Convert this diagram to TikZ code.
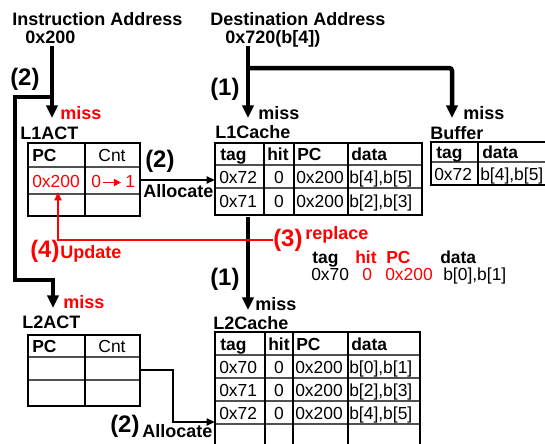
\documentclass[tikz,border=0pt]{standalone}
\usepackage{fontspec}
\setmainfont{Liberation Sans}
\usepackage{tikz}
\usetikzlibrary{arrows.meta}
\definecolor{ACTRed}{HTML}{FF0000}
\definecolor{RowGray}{HTML}{505050}

\tikzset{
  lbl/.style={inner sep=0pt,anchor=base west,font=\fontsize{12.8}{15}\selectfont\bfseries},
  stepno/.style={inner sep=0pt,anchor=base west,font=\fontsize{17}{20}\selectfont\bfseries},
  val/.style={inner sep=0pt,anchor=base west,font=\fontsize{12.4}{15}\selectfont},
  hdr/.style={inner sep=0pt,anchor=base west,font=\fontsize{12.4}{15}\selectfont\bfseries},
  busarrow/.style={line width=3.2pt,-{Triangle[width=8pt,length=9pt]}},
  allocarrow/.style={line width=1.4pt,-{Triangle[width=5pt,length=6pt]}},
  updarrow/.style={ACTRed,line width=1.4pt,-{Triangle[width=5pt,length=6pt]}},
  cntarrow/.style={ACTRed,line width=1.4pt,-{Triangle[width=5pt,length=5pt]}},
  tabframe/.style={line width=1.4pt},
  rowline/.style={RowGray,line width=1pt},
}

\begin{document}
\begin{tikzpicture}[x=0.025cm,y=-0.025cm]
\path[use as bounding box] (0,0) rectangle (545,443);

% addresses
\node[lbl] (ia) at (12,25) {Instruction Address};
\node[lbl] (iaval) at (25,43) {0x200};
\node[lbl] (da) at (210,25) {Destination Address};
\node[lbl] (daval) at (225,43) {0x720(b[4])};

% bus coordinates
\coordinate (iatop) at (52,46);
\coordinate (iasplit) at (52,97);
\coordinate (iabendA) at (15,97);
\coordinate (iabendB) at (15,280);
\coordinate (iabendC) at (53,280);
\coordinate (l1acttip) at (52,118);
\coordinate (l2acttip) at (53,308);
\coordinate (datop) at (248,46);
\coordinate (dasplit) at (248,68);
\coordinate (dabend) at (452,68);
\coordinate (l1ctip) at (248,118);
\coordinate (buftip) at (452,118);
\coordinate (l1cbot) at (248,217);
\coordinate (l2ctip) at (248,310);

\draw[busarrow] (iatop) -- (l1acttip);
\draw[busarrow] (iasplit) -- (iabendA) -- (iabendB) -- (iabendC) -- (l2acttip);
\draw[busarrow] (datop) -- (l1ctip);
\draw[busarrow,rounded corners=2pt] (dasplit) -- (dabend) -- (buftip);
\draw[busarrow] (l1cbot) -- (l2ctip);

\node[stepno] (stepia) at (10,85) {(2)};
\node[stepno] (stepda) at (210,95) {(1)};
\node[stepno] (stepl2c) at (210,285) {(1)};

% L1ACT
\node[lbl,ACTRed] (missl1act) at (60,119) {miss};
\node[lbl] (l1actname) at (20,139) {L1ACT};
\draw[rowline] (28,167) -- (140,167) (28,194) -- (140,194);
\draw[tabframe] (85,143) -- (85,216);
\draw[tabframe] (28,143) rectangle (140,216);
\node[hdr] (l1actpc) at (32,161) {PC};
\node[val,anchor=base] (l1actcnt) at (112,161) {Cnt};
\node[val,ACTRed] (l1actpcval) at (32,187) {0x200};
\node[val,ACTRed] (l1actold) at (91,187) {0};
\node[val,ACTRed] (l1actnew) at (125,187) {1};
\coordinate (cntfrom) at (103,182.5);
\coordinate (cntto) at (121,182.5);
\draw[cntarrow] (cntfrom) -- (cntto);

% L1ACT -> L1Cache
\coordinate (l1actout) at (140,180);
\coordinate (l1cin) at (215,180);
\draw[allocarrow] (l1actout) -- (l1cin);
\node[stepno] (stepl1alloc) at (145,167) {(2)};
\node[lbl] (l1alloc) at (143,197) {Allocate};

% L1Cache
\node[lbl] (missl1c) at (258,119) {miss};
\node[lbl] (l1cname) at (215,138) {L1Cache};
\draw[rowline] (215,165) -- (422,165) (215,188) -- (422,188);
\draw[tabframe] (264,143) -- (264,215) (294,143) -- (294,215) (348,143) -- (348,215);
\draw[tabframe] (215,143) rectangle (422,215);
\node[hdr] (l1ctag) at (220,160) {tag};
\node[hdr] (l1chit) at (267,160) {hit};
\node[hdr] (l1cpc) at (297,160) {PC};
\node[hdr] (l1cdata) at (351,160) {data};
\node[val] (l1ctagA) at (219,183) {0x72};
\node[val,anchor=base] (l1chitA) at (279,183) {0};
\node[val] (l1cpcA) at (296,183) {0x200};
\node[val] (l1cdataA) at (349,183) {b[4],b[5]};
\node[val] (l1ctagB) at (219,207) {0x71};
\node[val,anchor=base] (l1chitB) at (279,207) {0};
\node[val] (l1cpcB) at (296,207) {0x200};
\node[val] (l1cdataB) at (349,207) {b[2],b[3]};

% Buffer
\node[lbl] (missbuf) at (463,119) {miss};
\node[lbl] (bufname) at (430,139) {Buffer};
\draw[rowline] (431,162) -- (560,162);
\draw[tabframe] (478,142) -- (478,185);
\draw[tabframe] (431,142) rectangle (560,185);
\node[hdr] (buftag) at (436,158) {tag};
\node[hdr] (bufdata) at (482,158) {data};
\node[val] (buftagA) at (434,180) {0x72};
\node[val] (bufdataA) at (480,180) {b[4],b[5]};

% replace / update
\node[stepno,ACTRed] (stepreplace) at (273,246) {(3)};
\node[lbl,ACTRed] (replace) at (305,239) {replace};
\coordinate (updbend) at (58,240);
\coordinate (updtip) at (58,192);
\draw[updarrow] (stepreplace.west |- updbend) -- (updbend) -- (updtip);
\node[stepno,ACTRed] (stepupdate) at (30,257) {(4)};
\node[lbl,ACTRed] (update) at (60,258) {Update};
\node[hdr] (reptag) at (312,263) {tag};
\node[hdr,ACTRed] (rephit) at (355,263) {hit};
\node[hdr,ACTRed] (reppc) at (386,263) {PC};
\node[hdr] (repdata) at (440,263) {data};
\node[val] (reptagval) at (311,280) {0x70};
\node[val,ACTRed] (rephitval) at (362,280) {0};
\node[val,ACTRed] (reppcval) at (385,280) {0x200};
\node[val] (repdataval) at (443,280) {b[0],b[1]};

% L2ACT
\node[lbl,ACTRed] (missl2act) at (63,308) {miss};
\node[lbl] (l2actname) at (22,328) {L2ACT};
\draw[rowline] (28,357) -- (140,357) (28,380) -- (140,380);
\draw[tabframe] (85,335) -- (85,406);
\draw[tabframe] (28,335) rectangle (140,406);
\node[hdr] (l2actpc) at (32,352) {PC};
\node[val,anchor=base] (l2actcnt) at (112,352) {Cnt};

% L2ACT -> L2Cache
\coordinate (l2actout) at (140,370);
\coordinate (l2allocA) at (173,370);
\coordinate (l2allocB) at (173,422);
\coordinate (l2cin) at (215,422);
\draw[allocarrow] (l2actout) -- (l2allocA) -- (l2allocB) -- (l2cin);
\node[stepno] (stepl2alloc) at (110,432) {(2)};
\node[lbl] (l2alloc) at (142,437) {Allocate};

% L2Cache
\node[lbl] (missl2c) at (255,310) {miss};
\node[lbl] (l2cname) at (213,329) {L2Cache};
\draw[rowline] (215,355) -- (420,355) (215,378) -- (420,378) (215,401) -- (420,401) (215,424) -- (420,424) (215,447) -- (420,447);
\draw[tabframe] (265,332) -- (265,470) (293,332) -- (293,470) (348,332) -- (348,470);
\draw[tabframe] (215,332) rectangle (420,470);
\node[hdr] (l2ctag) at (220,350) {tag};
\node[hdr] (l2chit) at (268,350) {hit};
\node[hdr] (l2cpc) at (296,350) {PC};
\node[hdr] (l2cdata) at (351,350) {data};
\node[val] (l2ctagA) at (219,373) {0x70};
\node[val,anchor=base] (l2chitA) at (279,373) {0};
\node[val] (l2cpcA) at (295,373) {0x200};
\node[val] (l2cdataA) at (349,373) {b[0],b[1]};
\node[val] (l2ctagB) at (219,396) {0x71};
\node[val,anchor=base] (l2chitB) at (279,396) {0};
\node[val] (l2cpcB) at (295,396) {0x200};
\node[val] (l2cdataB) at (349,396) {b[2],b[3]};
\node[val] (l2ctagC) at (219,419) {0x72};
\node[val,anchor=base] (l2chitC) at (279,419) {0};
\node[val] (l2cpcC) at (295,419) {0x200};
\node[val] (l2cdataC) at (349,419) {b[4],b[5]};
\end{tikzpicture}
\end{document}
